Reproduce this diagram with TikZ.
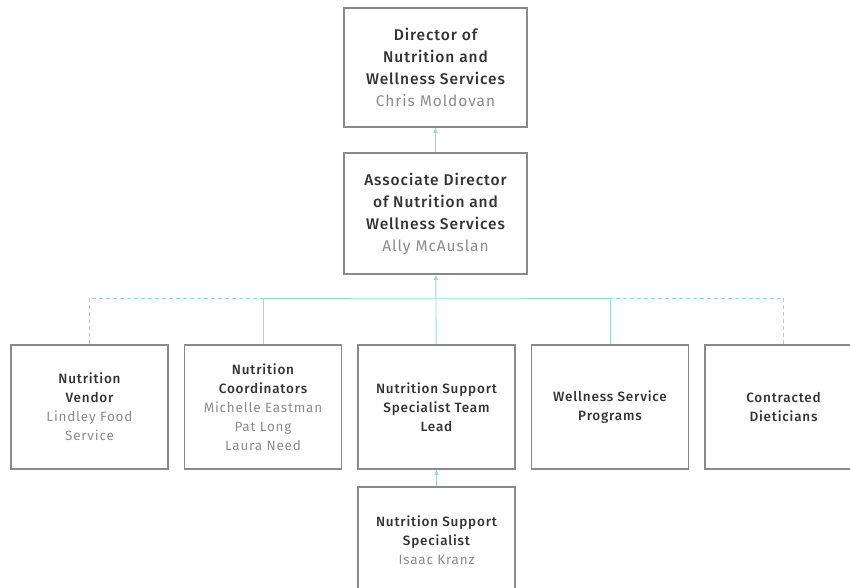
\documentclass[tikz,border=0pt]{standalone}
\usepackage{fontspec}
\setmainfont{Fira Sans}[LetterSpace=6, BoldFont={Fira Sans Medium}]
\usetikzlibrary{arrows.meta, positioning}
\definecolor{teal1}{HTML}{9FD8CE}
\definecolor{boxgray}{HTML}{8A8A8A}
\definecolor{titlegray}{HTML}{333333}
\definecolor{namegray}{HTML}{8C8C8C}
\newcommand{\who}[1]{\mdseries\textcolor{namegray}{#1}}

\begin{document}
\begin{tikzpicture}[x=1pt, y=1pt, >={Triangle[length=5pt, width=4pt]},
    topbox/.style={draw=boxgray, line width=1.6pt, minimum width=183pt, minimum height=119pt,
        align=center, text=titlegray, font=\fontsize{15.5}{22}\selectfont\bfseries},
    rowbox/.style={draw=boxgray, line width=1.6pt, minimum width=157pt, minimum height=124pt,
        align=center, text=titlegray, font=\fontsize{13.5}{19}\selectfont\bfseries},
    link/.style={draw=teal1, line width=0.9pt},
    dotlink/.style={link, dash pattern=on 4pt off 3pt}]
        \useasboundingbox (0,0) rectangle (850,-587);
        \clip (0,0) rectangle (850,-587);
        \def\rowy{-407}
        \def\gap{173.5}
        % top of the chart
        \node[topbox] (dir) at (435.5,-67.5) {Director of\\Nutrition and\\Wellness Services\\\who{Chris Moldovan}};
        \node[topbox, minimum height=121pt] (assoc) at (435.5,-213.5) {Associate Director\\of Nutrition and\\Wellness Services\\\who{Ally McAuslan}};
        % row of teams
        \node[rowbox] (vendor) at (89.5,\rowy) {Nutrition\\Vendor\\\who{Lindley Food}\\\who{Service}};
        \node[rowbox] (coord) at (89.5+\gap,\rowy) {Nutrition\\Coordinators\\\who{Michelle Eastman}\\\who{Pat Long}\\\who{Laura Need}};
        \node[rowbox] (lead) at (89.5+2*\gap,\rowy) {Nutrition Support\\Specialist Team\\Lead};
        \node[rowbox] (wellness) at (89.5+3*\gap,\rowy) {Wellness Service\\Programs};
        \node[rowbox] (contract) at (89.5+4*\gap,\rowy) {Contracted\\Dieticians};
        \node[rowbox, minimum height=120pt] (spec) at (89.5+2*\gap,-547) {Nutrition Support\\Specialist\\\who{Isaac Kranz}\\[-5pt]};
        \coordinate (bar) at (89.5+2*\gap,-298);
        % connectors
        \draw[link, ->] (assoc) -- (dir);
        \draw[link, ->] (lead) -- (assoc);
        \draw[link] (coord.north) |- (bar) -| (wellness.north);
        \draw[dotlink] (vendor.north) |- (coord.north |- bar);
        \draw[dotlink] (contract.north) |- (wellness.north |- bar);
        \draw[link, ->] (spec) -- (lead);
    \end{tikzpicture}
\end{document}
